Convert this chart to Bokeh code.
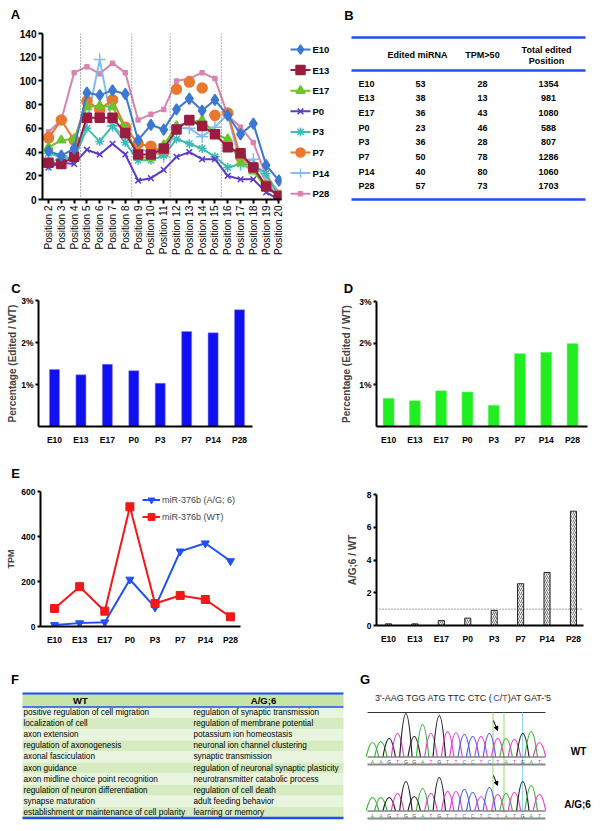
import math
from bokeh.plotting import figure
from bokeh.models import (Range1d, FixedTicker, Span, Legend, LegendItem,
                          ColumnDataSource, Arrow, NormalHead)
from bokeh.layouts import column, row
from bokeh.embed import file_html
from bokeh.resources import INLINE
from bokeh.core.properties import value

FONT = "Liberation Sans"

# ---------------- data ----------------
stages = ["E10", "E13", "E17", "P0", "P3", "P7", "P14", "P28"]

# Panel A
positions = list(range(2, 21))
a_E10 = [41, 37, 43, 90, 88, 92, 89, 50, 63, 59, 76, 85, 75, 84, 71, 55, 64, 29, 16]
a_E13 = [31, 30, 36, 69, 69, 69, 56, 38, 38, 43, 59, 67, 62, 55, 44, 39, 27, 11, 3]
a_E17 = [44, 50, 51, 78, 79, 78, 60, 36, 35, 46, 62, 65, 67, 55, 51, 31, 24, 10, 3]
a_P0 = [27, 31, 30, 42, 38, 47, 38, 16, 18, 25, 36, 40, 34, 34, 20, 17, 17, 6, 0]
a_P3 = [39, 36, 34, 60, 49, 62, 48, 33, 33, 37, 51, 47, 43, 36, 27, 30, 29, 22, 2]
a_P7 = [52, 67, 50, 83, 76, 84, 61, 47, 45, 40, 93, 99, 94, 71, 73, 36, 27, 12, 3]
a_P14 = [29, 37, 34, 65, 118, 62, 53, 42, 41, 36, 60, 60, 53, 61, 72, 29, 34, 15, 2]
a_P28 = [57, 67, 107, 112, 106, 115, 107, 67, 72, 76, 100, 102, 107, 102, 71, 61, 48, 20, 6]
a_dividers = [4.5, 8.5, 11.5, 15.5]
a_yticks = [0, 20, 40, 60, 80, 100, 120, 140]

# Panel B
b_headers = ["Edited miRNA", "TPM>50", "Total edited", "Position"]
b_edited = [53, 38, 36, 23, 36, 50, 40, 57]
b_tpm = [28, 13, 43, 46, 28, 78, 80, 73]
b_total = [1354, 981, 1080, 588, 807, 1286, 1060, 1703]

# Panels C, D (percent edited / WT)
c_vals = [1.36, 1.23, 1.48, 1.33, 1.03, 2.26, 2.23, 2.78]
d_vals = [0.68, 0.62, 0.86, 0.83, 0.51, 1.75, 1.78, 1.99]
pct_ticks = [1, 2, 3]

# Panel E
e_ag = [7, 15, 19, 209, 85, 334, 370, 291]
e_wt = [80, 177, 68, 532, 102, 138, 120, 43]
e_ratio = [0.1, 0.1, 0.3, 0.45, 0.92, 2.55, 3.24, 6.98]
e_yticks = [0, 200, 400, 600]
e2_yticks = [0, 2, 4, 6, 8]

# Panel F
f_headers = ["WT", "A/G;6"]
f_wt = ["positive regulation of cell migration", "localization of cell", "axon extension",
        "regulation of axonogenesis", "axonal fasciculation", "axon guidance",
        "axon midline choice point recognition", "regulation of neuron differentiation",
        "synapse maturation", "establishment or maintenance of cell polarity"]
f_ag = ["regulation of synaptic transmission", "regulation of membrane potential",
        "potassium ion homeostasis", "neuronal ion channel clustering", "synaptic transmission",
        "regulation of neuronal synaptic plasticity", "neurotransmitter catabolic process",
        "regulation of cell death", "adult feeding behavior", "learning or memory"]

# Panel G
g_seq_parts = ["3'-AAG TGG ATG TTC CTC (", "C", "/", "T", ")AT GAT-'5"]
g_bases = "AAGTGGATGTTCCTCTATGAT"
g_wt = [14, 15, 18, 23, 43, 20, 32, 23, 41, 25, 24, 22, 20, 20, 23, 18, 18, 17, 23, 25, 14]
g_ag = [13, 13, 13, 17, 29, 14, 22, 17, 33, 19, 19, 21, 18, 14, 23, 16, 17, 18, 29, 25, 16]
base_colors = {"A": "#3cb43c", "G": "#222222", "T": "#e83ccf", "C": "#4a5cf0"}

BLUE_RULE = "#1e4ff0"


# ---------------- helpers ----------------
def mkfig(w, h, l, r, t, b, xr, yr, axes=True, tick_fs="8.5px"):
    kw = {}
    if not axes:
        kw = dict(x_axis_location=None, y_axis_location=None)
    p = figure(width=w, height=h, x_range=xr, y_range=yr, output_backend="svg",
               toolbar_location=None, min_border_left=l, min_border_right=r,
               min_border_top=t, min_border_bottom=b, **kw)
    p.frame_align = False
    p.outline_line_color = None
    p.grid.visible = False
    if axes:
        for ax in p.axis:
            ax.axis_line_width = 2
            ax.axis_line_color = "black"
            ax.major_tick_line_width = 2
            ax.major_tick_out = 3
            ax.major_tick_in = 0
            ax.minor_tick_out = 0
            ax.minor_tick_in = 0
            ax.major_label_text_font = FONT
            ax.major_label_text_font_style = "bold"
            ax.major_label_text_font_size = tick_fs
            ax.major_label_text_color = "black"
            ax.major_label_standoff = 2
            ax.axis_label_text_font = FONT
            ax.axis_label_text_font_style = "bold"
            ax.axis_label_text_font_size = "10px"
            ax.axis_label_standoff = 0
    return p


def letter_strip(w, x0, y0, y1, letters, lx, ly):
    s = mkfig(w, int(round(y1 - y0)), 0, 0, 0, 0, Range1d(x0, x0 + w), Range1d(y1, y0),
              axes=False)
    s.text(x=lx, y=ly, text=letters, text_font=value(FONT), text_font_style="bold",
           text_font_size="13px", text_align="center", text_baseline="middle")
    return s


def stage_axis(p):
    p.xaxis.ticker = FixedTicker(ticks=list(range(len(stages))))
    p.xaxis.major_label_overrides = {i: s for i, s in enumerate(stages)}
    p.xaxis.major_tick_out = 0
    p.xaxis.major_label_standoff = 8


# ---------------- Panel A ----------------
stripA = letter_strip(288, 0, 0, 25, ["A"], [15], [14])
pA = mkfig(288, 237, 42, 7, 8, 63, Range1d(1.53, 20.2), Range1d(0, 140), tick_fs="10px")
pA.xaxis.ticker = FixedTicker(ticks=positions)
pA.xaxis.major_label_overrides = {n: "Position %d" % n for n in positions}
pA.xaxis.major_label_orientation = math.pi / 2
pA.xaxis.major_label_text_font_style = "normal"
pA.xaxis.major_tick_out = 4
pA.yaxis.ticker = FixedTicker(ticks=a_yticks)
pA.yaxis.major_tick_out = 4
for d in a_dividers:
    pA.add_layout(Span(location=d, dimension="height", line_color="#666666",
                       line_dash="1 2", line_width=1))

series = [
    ("P28", a_P28, "#d884b0", "square", 4),
    ("P14", a_P14, "#80bdf0", "cross", 12),
    ("P7", a_P7, "#e8782e", "circle", 10),
    ("P3", a_P3, "#3cbcb4", "asterisk", 9),
    ("P0", a_P0, "#5a3cc8", "x", 8),
    ("E17", a_E17, "#6cc42a", "triangle", 9),
    ("E13", a_E13, "#9a1c40", "square", 9),
    ("E10", a_E10, "#3a78d2", "diamond", 11),
]
for name, vals, color, marker, size in series:
    if name == "P7":
        pA.line(positions[:10], vals[:10], line_color=color, line_width=2)
        pA.line(positions[14:], vals[14:], line_color=color, line_width=2)
    else:
        pA.line(positions, vals, line_color=color, line_width=2)
    pA.scatter(positions, vals, marker=marker, size=size, fill_color=color,
               line_color=color, line_width=1.5)

# legend strip for panel A (same series styles)
pL = mkfig(52, 262, 0, 0, 0, 0, Range1d(288, 340), Range1d(262, 0), axes=False)
style = {s[0]: s for s in series}
for i, name in enumerate(stages):
    _, _, color, marker, size = style[name]
    yy = 49 + 20.6 * i
    pL.segment(x0=[290], x1=[310], y0=[yy], y1=[yy], line_color=color, line_width=2)
    pL.scatter([300], [yy], marker=marker, size=min(size, 9), fill_color=color,
               line_color=color, line_width=1.5)
    pL.text(x=[312], y=[yy], text=[name], text_font=value(FONT), text_font_style="bold",
            text_font_size="9.5px", text_align="left", text_baseline="middle")

# ---------------- Panel B ----------------
pB = mkfig(258, 262, 0, 0, 0, 0, Range1d(340, 598), Range1d(262, 0), axes=False)
pB.text(x=[348.5], y=[14.5], text=["B"], text_font=value(FONT), text_font_style="bold",
        text_font_size="13px", text_align="center", text_baseline="middle")
pB.segment(x0=[351] * 3, x1=[585] * 3, y0=[37, 70, 199], y1=[37, 70, 199],
           line_color=BLUE_RULE, line_width=2.5)
pB.text(x=[417, 482, 546, 546], y=[54, 54, 49, 60], text=b_headers,
        text_font=value(FONT), text_font_style="bold", text_font_size="9px",
        text_align="center", text_baseline="middle")
row_y = [83 + 14.7 * i for i in range(len(stages))]
txt = dict(text_font=value(FONT), text_font_style="bold", text_font_size="9px",
           text_baseline="middle")
pB.text(x=[358] * 8, y=row_y, text=stages, text_align="left", **txt)
pB.text(x=[420] * 8, y=row_y, text=[str(v) for v in b_edited], text_align="center", **txt)
pB.text(x=[482] * 8, y=row_y, text=[str(v) for v in b_tpm], text_align="center", **txt)
pB.text(x=[548] * 8, y=row_y, text=[str(v) for v in b_total], text_align="center", **txt)

# ---------------- Panels C, D ----------------
stripCD = letter_strip(598, 0, 262, 294, ["C", "D"], [15.5, 348], [287.5, 287.5])
idx = list(range(len(stages)))
pC = mkfig(300, 161, 38, 48, 6, 29, Range1d(-0.605, 7.49), Range1d(0, 3))
pC.vbar(x=idx, top=c_vals, width=0.38, fill_color="#1010f0", line_color="#8080f8",
        line_width=0.5)
stage_axis(pC)
pC.yaxis.ticker = FixedTicker(ticks=pct_ticks)
pC.yaxis.major_label_overrides = {t: "%d%%" % t for t in pct_ticks}
pC.yaxis.axis_label = "Percentage (Edited / WT)"

pD = mkfig(298, 161, 76, 11, 7, 29, Range1d(-0.46, 7.57), Range1d(0, 3))
pD.vbar(x=idx, top=d_vals, width=0.42, fill_color="#20ee20", line_color="#90f090",
        line_width=0.5)
stage_axis(pD)
pD.yaxis.ticker = FixedTicker(ticks=pct_ticks)
pD.yaxis.major_label_overrides = {t: "%d%%" % t for t in pct_ticks}
pD.yaxis.axis_label = "Percentage (Edited / WT)"
pD.yaxis.axis_label_standoff = 4

# ---------------- Panel E (left) ----------------
stripE = letter_strip(598, 0, 455, 479, ["E"], [15], [472.5])
pE = mkfig(300, 186, 40, 60, 12, 39, Range1d(-0.557, 7.4), Range1d(0, 600))
lb = pE.line(idx, e_ag, line_color="#2050f0", line_width=2)
sb = pE.scatter(idx, e_ag, marker="inverted_triangle", size=8, color="#2050f0")
lr = pE.line(idx, e_wt, line_color="#f01818", line_width=2)
sr = pE.scatter(idx, e_wt, marker="square", size=8, color="#f01818")
stage_axis(pE)
pE.yaxis.ticker = FixedTicker(ticks=e_yticks)
pE.yaxis.axis_label = "TPM"
pE.yaxis.axis_label_text_font_size = "9px"
pE.yaxis.axis_label_standoff = 2
legE = Legend(items=[LegendItem(label="miR-376b (A/G; 6)", renderers=[lb, sb]),
                     LegendItem(label="miR-376b (WT)", renderers=[lr, sr])],
              location=(102, 101), glyph_width=18, glyph_height=17, label_height=17,
              spacing=0, padding=0, margin=0, label_standoff=2,
              label_text_font=FONT, label_text_font_size="9px",
              border_line_color=None, background_fill_alpha=0)
pE.add_layout(legE)

# ---------------- Panel E (right) ----------------
pE2 = mkfig(298, 186, 76, 15, 15, 40, Range1d(-0.454, 7.38), Range1d(0, 8))
pE2.vbar(x=idx, top=e_ratio, width=0.23, fill_color="white", line_color="#222222",
         line_width=1, hatch_pattern="/", hatch_color="#333333", hatch_scale=4,
         hatch_weight=0.7)
pE2.add_layout(Span(location=1, dimension="width", line_color="#444444",
                    line_dash="1 2", line_width=1))
stage_axis(pE2)
pE2.yaxis.ticker = FixedTicker(ticks=e2_yticks)
pE2.yaxis.axis_label = "A/G;6 / WT"
pE2.yaxis.axis_label_standoff = 6

# ---------------- Panel F ----------------
pF = mkfig(355, 164, 0, 0, 0, 0, Range1d(0, 355), Range1d(829, 665), axes=False)
pF.text(x=[14.5], y=[679], text=["F"], text_font=value(FONT), text_font_style="bold",
        text_font_size="13px", text_align="center", text_baseline="middle")
n_rows = len(f_wt)
rstep = 11.1
band_top = [706.5 + rstep * i for i in range(n_rows)]
band_col = ["#eaf5df" if i % 2 == 0 else "#d6ecc0" for i in range(n_rows)]
pF.quad(left=[22], right=[343], top=[693], bottom=[706.5], fill_color="#c6e4a6",
        line_color=None)
pF.quad(left=[22] * n_rows, right=[343] * n_rows, top=band_top,
        bottom=[t + rstep for t in band_top], fill_color=band_col, line_color=None)
pF.segment(x0=[22] * 3, x1=[343] * 3, y0=[693, 706.5, 817.5], y1=[693, 706.5, 817.5],
           line_color=BLUE_RULE, line_width=[2, 1.5, 2.5])
pF.text(x=[80, 263], y=[700, 700], text=f_headers, text_font=value(FONT),
        text_font_style="bold", text_font_size="9.5px", text_align="center",
        text_baseline="middle")
ry = [t + rstep / 2 for t in band_top]
pF.text(x=[23] * n_rows, y=ry, text=f_wt, text_font=value(FONT), text_font_size="8.2px",
        text_align="left", text_baseline="middle")
pF.text(x=[193] * n_rows, y=ry, text=f_ag, text_font=value(FONT), text_font_size="8.2px",
        text_align="left", text_baseline="middle")

# ---------------- Panel G ----------------
pG = mkfig(243, 164, 0, 0, 0, 0, Range1d(355, 598), Range1d(829, 665), axes=False)
pG.text(x=[364.5], y=[678.5], text=["G"], text_font=value(FONT), text_font_style="bold",
        text_font_size="13px", text_align="center", text_baseline="middle")

# sequence header (pieces laid out with Arial advance widths)
adv = {"3": 556, "'": 191, "-": 333, "A": 667, "G": 778, " ": 278, "T": 611, "C": 722,
       "(": 333, "/": 278, ")": 333, "5": 556}
fs = 9.0
widths = [sum(adv[c] for c in part) * fs / 1000 for part in g_seq_parts]
sx = 463.5 - sum(widths) / 2
starts = []
for wdt in widths:
    starts.append(sx)
    sx += wdt
pG.text(x=starts, y=[697] * 5, text=g_seq_parts,
        text_color=["#222222", "#3040e0", "#222222", "#e02020", "#222222"],
        text_font=value(FONT), text_font_size="9px", text_align="left",
        text_baseline="middle")

x0g, dxg = 372.0, 8.35
gx = [x0g + dxg * i for i in range(len(g_bases))]
gcol = [base_colors[b] for b in g_bases]


def trace(base_y, heights):
    w = 6.2
    src = ColumnDataSource(dict(
        x0=[x - w for x in gx], y0=[base_y] * len(gx), x1=[x + w for x in gx],
        y1=[base_y] * len(gx), cx0=[x - 0.3 * w for x in gx],
        cy0=[base_y - h / 0.75 for h in heights], cx1=[x + 0.3 * w for x in gx],
        cy1=[base_y - h / 0.75 for h in heights], c=gcol))
    pG.bezier(x0="x0", y0="y0", x1="x1", y1="y1", cx0="cx0", cy0="cy0", cx1="cx1",
              cy1="cy1", line_color="c", line_width=1.2, source=src)
    pG.segment(x0=[367], x1=[545], y0=[base_y + 0.5], y1=[base_y + 0.5],
               line_color="#444444", line_width=1)
    pG.text(x=gx, y=[base_y + 5] * len(gx), text=list(g_bases), text_color=gcol,
            text_font=value(FONT), text_font_size="5px", text_align="center",
            text_baseline="middle")
    pG.segment(x0=[367], x1=[545], y0=[base_y + 8], y1=[base_y + 8],
               line_color="#888888", line_width=2)


pG.segment(x0=[367], x1=[545], y0=[712], y1=[712], line_color="#333333", line_width=1)
pG.segment(x0=[492.5, 503.5, 522], x1=[492.5, 503.5, 522], y0=[712] * 3, y1=[812] * 3,
           line_color=["#90dd70", "#90dd70", "#90d8f0"], line_width=1)
trace(756, g_wt)
trace(810, g_ag)
for ys in (720, 775):
    pG.add_layout(Arrow(x_start=493, y_start=ys, x_end=497, y_end=ys + 10,
                        line_color="black", line_width=1,
                        end=NormalHead(size=4, fill_color="black", line_color="black")))
pG.text(x=[578, 577], y=[751, 804], text=["WT", "A/G;6"], text_font=value(FONT),
        text_font_style="bold", text_font_size="10px", text_align="center",
        text_baseline="middle")

layout = column(
    row(column(stripA, pA), pL, pB),
    stripCD, row(pC, pD),
    stripE, row(pE, pE2),
    row(pF, pG),
)
open("out.html", "w").write(file_html(layout, INLINE))
